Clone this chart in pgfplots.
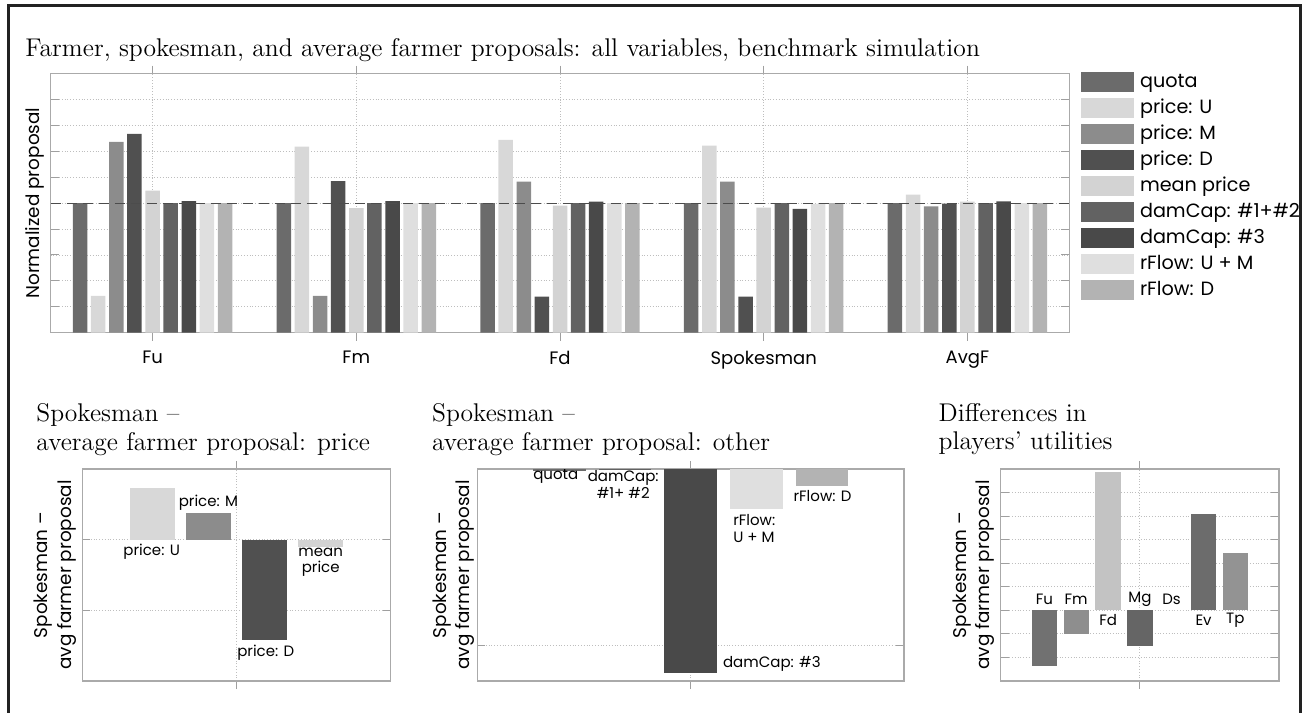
\documentclass[border=0pt]{standalone}
\usepackage{pgfplots}
\usepackage{pgfplotstable}
\pgfplotsset{compat=1.18}
\usepackage{fontspec}
\newfontfamily\sansf{Poppins}
\definecolor{cQuota}{RGB}{107,107,107}
\definecolor{cPU}{RGB}{216,216,216}
\definecolor{cPM}{RGB}{140,140,140}
\definecolor{cPD}{RGB}{80,80,80}
\definecolor{cMean}{RGB}{211,211,211}
\definecolor{cDCa}{RGB}{98,98,98}
\definecolor{cDCb}{RGB}{73,73,73}
\definecolor{cRUM}{RGB}{223,223,223}
\definecolor{cRD}{RGB}{179,179,179}
\definecolor{cFu}{RGB}{113,113,113}
\definecolor{cFm}{RGB}{142,142,142}
\definecolor{cFd}{RGB}{195,195,195}
\definecolor{cMg}{RGB}{101,101,101}
\definecolor{cEv}{RGB}{108,108,108}
\definecolor{cTp}{RGB}{147,147,147}
\definecolor{cFrame}{RGB}{34,34,34}
\definecolor{cAxis}{RGB}{170,170,170}
\definecolor{cGrid}{RGB}{190,190,190}

\pgfplotstableread{
x quota pu pm pd mean dca dcb rum rd
1 5.00 1.42 7.36 7.67 5.48 5.00 5.08 5.00 5.00
2 5.00 7.18 1.42 5.85 4.81 5.00 5.08 5.00 5.00
3 5.00 7.44 5.83 1.39 4.90 5.00 5.06 5.00 5.00
4 5.00 7.22 5.83 1.39 4.83 5.00 4.78 4.97 5.00
5 5.00 5.33 4.87 4.98 5.06 5.00 5.07 5.00 5.00
}\topdata

\pgfplotsset{
  mat/.style={
    scale only axis, anchor=north west,
    axis line style={cAxis, line width=0.6pt},
    grid=major, grid style={densely dotted, cGrid, line width=0.4pt},
    tick style={gray!75, line width=0.5pt}, major tick length=4pt,
    tick align=inside,
    yticklabels={},
    ylabel style={at={(rel axis cs:0,0.5)}, anchor=south, inner sep=0pt, inner ysep=2.8pt, align=center,
      font=\sansf\fontsize{9.2}{11.7}\selectfont},
  },
  small/.style={mat, xmin=0.5, xmax=1.5, xtick={1}, xticklabels={}, width=0pt, height=106pt},
}
\newcommand{\ann}{\sansf\fontsize{7.5}{8.2}\selectfont}
\newcommand{\ttl}{\fontsize{12.8}{15}\selectfont}

\begin{document}
\begin{tikzpicture}
\path[use as bounding box] (0,0) rectangle (652pt,-356pt);
\draw[cFrame, line width=1.5pt] (4.15pt,-370pt) -- (4.15pt,-2.65pt) -- (650.35pt,-2.65pt) -- (650.35pt,-370pt);

% titles
\node[anchor=base west, inner sep=0pt, font=\ttl] at (12.5pt,-28.35pt)
  {Farmer, spokesman, and average farmer proposals: all variables, benchmark simulation};
\node[anchor=base west, inner sep=0pt, font=\ttl] at (18pt,-210.85pt) {Spokesman –};
\node[anchor=base west, inner sep=0pt, font=\ttl] at (18pt,-225pt) {average farmer proposal: price};
\node[anchor=base west, inner sep=0pt, font=\ttl] at (215.85pt,-210.85pt) {Spokesman –};
\node[anchor=base west, inner sep=0pt, font=\ttl] at (215.85pt,-225pt) {average farmer proposal: other};
\node[anchor=base west, inner sep=0pt, font=\ttl] at (469.15pt,-210.5pt) {Differences in};
\node[anchor=base west, inner sep=0pt, font=\ttl] at (469.15pt,-224.65pt) {players’ utilities};

% ---------- top chart ----------
\begin{axis}[mat,
  at={(25.35pt,-36.75pt)}, width=509.3pt, height=129.6pt,
  xmin=0.5, xmax=5.5, ymin=0, ymax=10,
  xtick={1,...,5}, xticklabels={Fu,Fm,Fd,Spokesman,AvgF},
  xticklabel style={font=\sansf\fontsize{9}{11}\selectfont, inner sep=0pt, anchor=north, yshift=-5pt},
  ytick={1,...,9},
  ylabel={Normalized proposal},
  ybar=1.81pt, bar width=7.25pt,
  legend style={draw=none, fill=none, at={(1.0115,1.0045)}, anchor=north west,
    inner sep=0pt, outer sep=0pt, row sep=3pt,
    font=\sansf\fontsize{9.6}{11}\selectfont,
    nodes={inner sep=0pt, outer sep=0pt, text height=7.2pt, text depth=2.2pt},
    /tikz/every odd column/.append style={column sep=3pt}},
  legend cell align=left,
  legend image code/.code={\fill[#1] (0pt,-5pt) rectangle (26.5pt,5pt);},
]
\addplot[fill=cQuota, draw=none] table[x=x, y=quota]{\topdata};
\addplot[fill=cPU, draw=none] table[x=x, y=pu]{\topdata};
\addplot[fill=cPM, draw=none] table[x=x, y=pm]{\topdata};
\addplot[fill=cPD, draw=none] table[x=x, y=pd]{\topdata};
\addplot[fill=cMean, draw=none] table[x=x, y=mean]{\topdata};
\addplot[fill=cDCa, draw=none] table[x=x, y=dca]{\topdata};
\addplot[fill=cDCb, draw=none] table[x=x, y=dcb]{\topdata};
\addplot[fill=cRUM, draw=none] table[x=x, y=rum]{\topdata};
\addplot[fill=cRD, draw=none] table[x=x, y=rd]{\topdata};
\legend{quota, price: U, price: M, price: D, mean price, damCap: \#1+\#2, damCap: \#3, rFlow: U + M, rFlow: D}
\addplot[sharp plot, draw=black!70, line width=0.6pt, dash pattern=on 5pt off 3pt, forget plot] coordinates {(0.5,5) (5.5,5)};
\end{axis}

% ---------- chart A: price ----------
\begin{axis}[small,
  at={(41.15pt,-234.5pt)}, width=154.2pt,
  ymin=-2, ymax=1, ytick={-1,0},
  ylabel={Spokesman –\\avg farmer proposal},
  ybar=5.61pt, bar width=22.43pt,
]
\addplot[fill=cPU, draw=none] coordinates {(1,0.735)};
\addplot[fill=cPM, draw=none] coordinates {(1,0.38)};
\addplot[fill=cPD, draw=none] coordinates {(1,-1.42)};
\addplot[fill=cMean, draw=none] coordinates {(1,-0.10)};
\node[font=\ann] at (axis cs:0.725,-0.17) {price: U};
\node[font=\ann] at (axis cs:0.909,0.523) {price: M};
\node[font=\ann] at (axis cs:1.095,-1.594) {price: D};
\node[font=\ann, align=center] at (axis cs:1.273,-0.316) {mean\\price};
\end{axis}

% ---------- chart B: other ----------
\begin{axis}[small,
  at={(238.65pt,-234.5pt)}, width=213.35pt,
  ymin=-0.6, ymax=0, ytick={-0.5},
  ylabel={Spokesman –\\avg farmer proposal},
  ylabel style={inner ysep=1.2pt},
  ybar=6.56pt, bar width=26.26pt,
]
\addplot[fill=cQuota, draw=none] coordinates {(1,-0.006)};
\addplot[fill=cDCa, draw=none] coordinates {(1,-0.001)};
\addplot[fill=cDCb, draw=none] coordinates {(1,-0.578)};
\addplot[fill=cRUM, draw=none] coordinates {(1,-0.112)};
\addplot[fill=cRD, draw=none] coordinates {(1,-0.047)};
\node[font=\ann] at (axis cs:0.684,-0.022) {quota};
\node[font=\ann, align=center] at (axis cs:0.842,-0.044) {damCap:\\\#1+ \#2};
\node[font=\ann, align=left] at (axis cs:1.149,-0.168) {rFlow:\\U + M};
\node[font=\ann] at (axis cs:1.309,-0.0756) {rFlow: D};
\node[font=\ann, anchor=west, inner sep=0pt] at (axis cs:1.075,-0.552) {damCap: \#3};
\end{axis}

% ---------- chart C: utilities ----------
\begin{axis}[small,
  at={(500.35pt,-234.5pt)}, width=139.15pt,
  ymin=-3, ymax=6, ytick={-2,...,5},
  ylabel={Spokesman –\\avg farmer proposal},
  ybar=3.18pt, bar width=12.72pt,
]
\addplot[fill=cFu, draw=none] coordinates {(1,-2.36)};
\addplot[fill=cFm, draw=none] coordinates {(1,-1.0)};
\addplot[fill=cFd, draw=none] coordinates {(1,5.87)};
\addplot[fill=cMg, draw=none] coordinates {(1,-1.52)};
\addplot[fill=white, draw=none] coordinates {(1,0)};
\addplot[fill=cEv, draw=none] coordinates {(1,4.1)};
\addplot[fill=cTp, draw=none] coordinates {(1,2.42)};
\node[font=\ann] at (axis cs:0.657,0.47) {Fu};
\node[font=\ann] at (axis cs:0.771,0.47) {Fm};
\node[font=\ann] at (axis cs:0.886,-0.41) {Fd};
\node[font=\ann] at (axis cs:1.0,0.47) {Mg};
\node[font=\ann] at (axis cs:1.114,0.47) {Ds};
\node[font=\ann] at (axis cs:1.229,-0.41) {Ev};
\node[font=\ann] at (axis cs:1.343,-0.41) {Tp};
\end{axis}
\end{tikzpicture}
\end{document}
